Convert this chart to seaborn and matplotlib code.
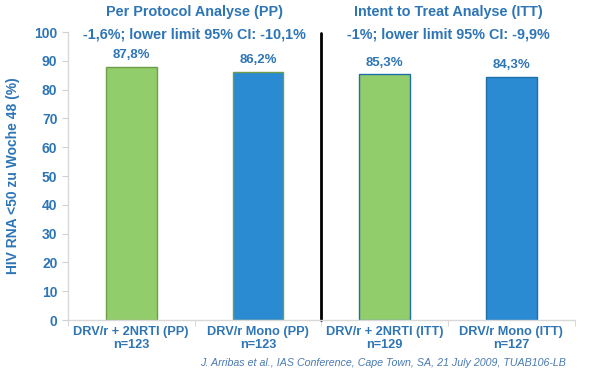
import pandas as pd
import numpy as np
import seaborn as sns
import matplotlib.pyplot as plt

# data
arms = ['DRV/r + 2NRTI (PP)', 'DRV/r Mono (PP)', 'DRV/r + 2NRTI (ITT)', 'DRV/r Mono (ITT)']
n_patients = [123, 123, 129, 127]
regimen = ['DRV/r + 2NRTI', 'DRV/r Mono', 'DRV/r + 2NRTI', 'DRV/r Mono']
response = [87.8, 86.2, 85.3, 84.3]
group_titles = ['Per Protocol Analyse (PP)', 'Intent to Treat Analyse (ITT)']
group_notes = ['-1,6%; lower limit 95% CI: -10,1%', '-1%; lower limit 95% CI: -9,9%']

blue_txt = '#2E75B6'
colors = {'DRV/r + 2NRTI': '#92CD6B', 'DRV/r Mono': '#2A8AD2'}
edges = {'DRV/r + 2NRTI': '#6E9E4A', 'DRV/r Mono': '#1F6FA8'}

df = pd.DataFrame({'arm': [f'{a}\nn={n}' for a, n in zip(arms, n_patients)],
                   'regimen': regimen, 'response': response})

sns.set_style('white')
plt.rcParams['font.family'] = ['Liberation Sans', 'DejaVu Sans']

fig = plt.figure(figsize=(6, 3.7), dpi=100)
ax = fig.add_axes([0.113, 0.135, 0.845, 0.7785])

sns.barplot(data=df, x='arm', y='response', hue='regimen', palette=colors,
            saturation=1, width=0.4, dodge=False, legend=False, ax=ax)
for patch, reg in zip(ax.patches, regimen):
    patch.set_edgecolor(edges[reg])
    patch.set_linewidth(1)

ax.set_xlim(-0.5, 3.5)
ax.set_ylim(0, 100)
ax.set_yticks(np.arange(0, 101, 10))
ax.set_xticks(np.arange(-0.5, 3.6, 1), minor=True)
ax.tick_params(axis='y', which='major', length=4, color='#d0d0d0', labelsize=10,
               labelcolor=blue_txt, left=True)
ax.tick_params(axis='x', which='major', length=0, labelsize=9.2, labelcolor=blue_txt, pad=4)
ax.tick_params(axis='x', which='minor', length=4, color='#d0d0d0', bottom=True)
for lbl in ax.get_xticklabels() + ax.get_yticklabels():
    lbl.set_fontweight('bold')
for lbl in ax.get_xticklabels():
    lbl.set_linespacing(1.1)

for side in ['top', 'right']:
    ax.spines[side].set_visible(False)
for side in ['left', 'bottom']:
    ax.spines[side].set_color('#d8d8d8')
    ax.spines[side].set_linewidth(1)

ax.set_xlabel('')
ax.set_ylabel('HIV RNA <50 zu Woche 48 (%)', color=blue_txt, fontsize=10,
              fontweight='bold', labelpad=10)

# value labels
for i, v in enumerate(response):
    ax.text(i, v + 2, f'{v:.1f}%'.replace('.', ','), ha='center', va='bottom',
            color=blue_txt, fontsize=9.5, fontweight='bold')

# divider between PP and ITT
ax.plot([1.5, 1.5], [0, 99.5], color='black', lw=2, clip_on=False)

# group headings
for k in range(2):
    ax.text(0.5 + 2 * k, 107, group_titles[k], ha='center', va='center',
            color=blue_txt, fontsize=10.4, fontweight='bold', clip_on=False)
    ax.text(0.5 + 2 * k, 99, group_notes[k], ha='center', va='center',
            color=blue_txt, fontsize=10.4, fontweight='bold', clip_on=False)

fig.text(0.943, 0.02, 'J. Arribas et al., IAS Conference, Cape Town, SA, 21 July 2009, TUAB106-LB',
         ha='right', va='center', fontsize=7.7, style='italic', color='#4a7ab0')

fig.savefig('out.png', dpi=100)
